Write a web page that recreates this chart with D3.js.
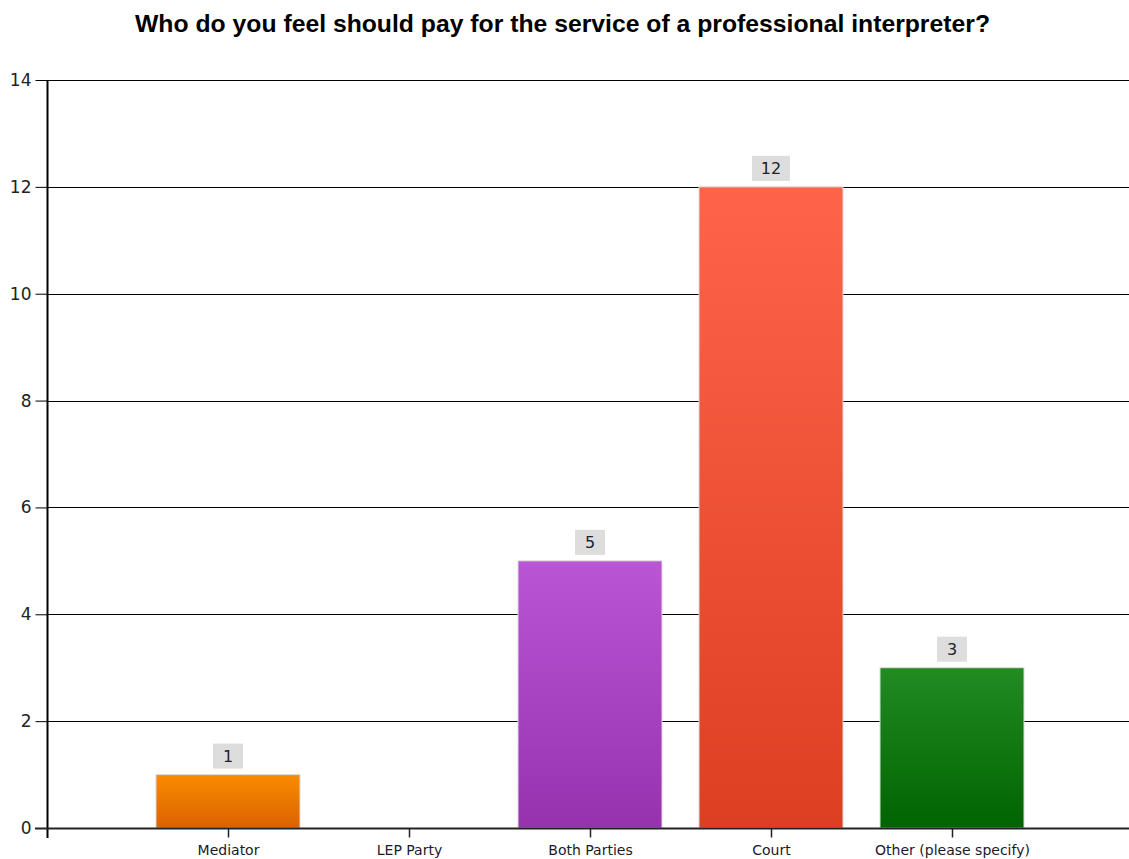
<!DOCTYPE html>
<html><head><meta charset="utf-8">
<script src="https://cdn.jsdelivr.net/npm/d3@7"></script>
<style>body{margin:0;background:#fff}svg{display:block}</style>
</head><body>
<script>
const title = "Who do you feel should pay for the service of a professional interpreter?";
const categories = ["Mediator", "LEP Party", "Both Parties", "Court", "Other (please specify)"];
const values = [1, 0, 5, 12, 3];
const yTicks = [0, 2, 4, 6, 8, 10, 12, 14];
const colorsTop = ["#FA8C00", "#FF9900", "#BA56D6", "#FF634A", "#228B22"];
const colorsBottom = ["#DA6200", "#E07000", "#9632AE", "#DC3F22", "#006400"];

const W = 1129, H = 859;
const svg = d3.select("body").append("svg").attr("width", W).attr("height", H);

const x = d3.scaleLinear().domain([0, 6]).range([47, 1133]);
const y = d3.scaleLinear().domain([0, 14]).range([828, 80]);
const barW = 144;

const defs = svg.append("defs");
categories.forEach((c, i) => {
  const g = defs.append("linearGradient").attr("id", "g" + i).attr("x1", 0).attr("y1", 0).attr("x2", 0).attr("y2", 1);
  g.append("stop").attr("offset", "0%").attr("stop-color", colorsTop[i]);
  g.append("stop").attr("offset", "100%").attr("stop-color", colorsBottom[i]);
});

svg.append("text").attr("x", 135).attr("y", 32)
  .attr("textLength", 855).attr("lengthAdjust", "spacingAndGlyphs")
  .style("font-family", "Liberation Sans, Arial, sans-serif").style("font-weight", "bold").style("font-size", "24px")
  .attr("fill", "#000").text(title);

// gridlines
svg.append("g").selectAll("line").data(yTicks.filter(d => d > 0)).join("line")
  .attr("x1", 47).attr("x2", W).attr("y1", d => Math.round(y(d)) + 0.5).attr("y2", d => Math.round(y(d)) + 0.5)
  .attr("stroke", "#000").attr("stroke-width", 1);

// y axis
const yAxis = svg.append("g").attr("transform", "translate(47.5,0)")
  .call(d3.axisLeft(y).tickValues(yTicks).tickSize(12).tickPadding(4).tickSizeOuter(0));
yAxis.select(".domain").attr("stroke", "#000").attr("stroke-width", 2).attr("d", `M0,${y(14)}V${y(0)+10}`);
yAxis.selectAll(".tick line").attr("stroke", "#000");
yAxis.selectAll(".tick text").style("font-family", "DejaVu Sans, sans-serif").style("font-size", "17px").attr("fill", "#222");

// bars
svg.append("g").selectAll("rect").data(values).join("rect")
  .attr("x", (d, i) => x(i + 1) - barW / 2).attr("width", barW)
  .attr("y", d => y(d)).attr("height", d => y(0) - y(d))
  .attr("fill", (d, i) => `url(#g${i})`).attr("stroke", "#dcdcdc").attr("stroke-width", 1)
  .style("display", d => d > 0 ? null : "none");

// x axis
const xAxis = svg.append("g").attr("transform", `translate(0,${Math.round(y(0)) + 0.5})`)
  .call(d3.axisBottom(x).tickValues([1, 2, 3, 4, 5]).tickFormat(d => categories[d - 1]).tickSize(9).tickPadding(8).tickSizeOuter(0));
xAxis.select(".domain").attr("stroke", "#222").attr("stroke-width", 2).attr("d", `M35,0H${W}`);
xAxis.selectAll(".tick line").attr("stroke", "#222").attr("stroke-width", 1.5);
xAxis.selectAll(".tick text").style("font-family", "DejaVu Sans, sans-serif").style("font-size", "14px").attr("fill", "#1a1a2a");

// value labels
const lbl = svg.append("g").selectAll("g").data(values.map((v, i) => ({v, i})).filter(d => d.v > 0)).join("g");
lbl.append("rect")
  .attr("x", d => x(d.i + 1) - (String(d.v).length > 1 ? 19 : 15))
  .attr("width", d => String(d.v).length > 1 ? 38 : 30)
  .attr("y", d => y(d.v) - 31).attr("height", 25).attr("fill", "#dddddd");
lbl.append("text").attr("x", d => x(d.i + 1)).attr("y", d => y(d.v) - 12.5)
  .attr("text-anchor", "middle").style("font-family", "DejaVu Sans, sans-serif").style("font-size", "16px")
  .attr("fill", "#222").text(d => d.v);
</script>
</body></html>
